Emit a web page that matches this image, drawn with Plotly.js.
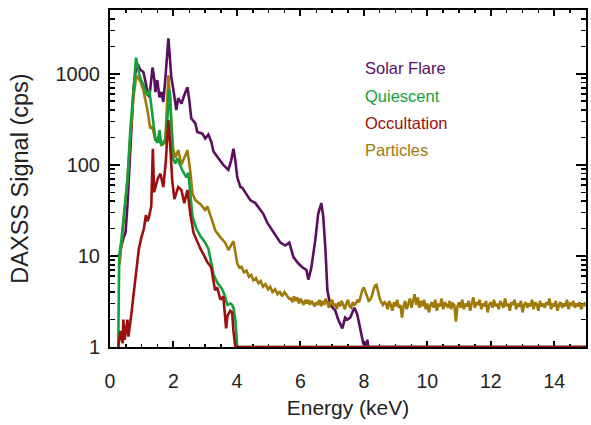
<!DOCTYPE html>
<html><head><meta charset="utf-8">
<script src="https://cdn.plot.ly/plotly-3.0.1.min.js"></script>
<style>body{margin:0;background:#fff}</style>
</head><body><div id="chart" style="width:591px;height:425px"></div>
<script>
const seriesNames = ['Solar Flare','Quiescent','Occultation','Particles'];
const seriesColors = ['#5b0d5f','#14a03c','#9b0f0f','#a07a08'];

const flareE = [0.30,0.33,0.42,0.49,0.55,0.64,0.74,0.83,0.89,0.96,1.05,1.11,1.18,1.24,1.30,1.34,1.40,1.43,1.49,1.56,1.62,1.68,1.74,1.81,1.84,1.87,1.93,2.00,2.09,2.15,2.25,2.34,2.44,2.50,2.56,2.69,2.75,2.91,3.00,3.10,3.19,3.26,3.41,3.57,3.73,3.82,3.89,3.95,4.01,4.11,4.17,4.33,4.42,4.58,4.74,4.83,4.96,5.15,5.37,5.52,5.65,5.78,5.93,6.06,6.19,6.25,6.34,6.47,6.56,6.66,6.72,6.79,6.85,6.94,7.10,7.19,7.32,7.41,7.48,7.57,7.70,7.79,7.89,7.98,8.04,8.11,8.14,15.0];
const flareV = [9,11.6,15.6,18,36,145,660,1250,1250,1100,1050,850,630,550,950,1170,850,630,850,550,630,490,850,1600,2450,1800,930,660,400,540,470,580,710,510,325,285,230,220,195,215,180,140,118,100,88,112,150,112,73,57,56,46,41,38,32,29,23,18,14,13,14,9.7,8.3,7.5,7.0,5.5,7.3,14.9,29,38,27,11.6,4.2,2.9,2.5,2.0,1.6,2.1,2.0,2.1,2.7,2.3,1.5,1.1,1,1.2,1,1];

const quietE = [0.26,0.29,0.36,0.49,0.55,0.64,0.74,0.82,0.92,0.98,1.05,1.17,1.24,1.30,1.43,1.50,1.56,1.62,1.74,1.81,1.86,1.90,1.94,1.97,2.06,2.12,2.28,2.41,2.47,2.53,2.60,2.72,2.85,3.00,3.10,3.16,3.26,3.38,3.52,3.60,3.70,3.79,3.85,3.89,3.95,4.01,15.0];
const quietV = [1,10,15,40,68,240,700,1500,1000,850,760,580,660,450,190,175,240,165,190,330,680,560,280,120,103,118,87,73,82,53,27,20,16.5,14,12,9.5,6.3,5.1,4.4,3.8,2.9,3.0,2.9,2.7,2.0,1,1];

const occE = [0.26,0.33,0.40,0.42,0.46,0.49,0.55,0.58,0.62,0.68,0.74,0.83,0.91,0.99,1.07,1.13,1.18,1.22,1.30,1.35,1.39,1.50,1.59,1.68,1.76,1.80,1.84,1.90,1.96,2.03,2.15,2.25,2.34,2.44,2.53,2.63,2.72,2.85,2.97,3.07,3.19,3.26,3.31,3.38,3.48,3.57,3.66,3.70,3.79,3.85,3.89,3.95,15.0];
const occV = [1,1.5,1.1,2.0,1.2,1.5,2.0,1.3,1.6,2.4,3.7,7.0,12,16,20,28,24,26,35,150,50,70,80,57,110,190,310,160,68,42,57,53,38,53,29,18,15,12,10,8.5,7.5,5.5,4.2,4.5,3.3,3.6,1.6,2.2,2.5,2.4,1.5,1,1];

const partE = [0.30,0.45,0.55,0.64,0.74,0.83,0.96,1.05,1.18,1.27,1.33,1.43,1.52,1.62,1.74,1.84,1.90,1.99,2.06,2.15,2.25,2.37,2.44,2.53,2.60,2.69,2.85,3.00,3.07,3.16,3.32,3.48,3.63,3.73,3.80,3.89,3.95,
4.01,4.08,4.15,4.22,4.30,4.38,4.45,4.52,4.60,4.68,4.75,4.82,4.90,4.98,5.05,5.12,5.20,5.28,5.35,5.42,5.50,5.57,5.64,
5.70,5.75,5.80,5.85,5.90,5.95,6.00,6.05,6.10,6.15,
6.20,6.25,6.30,6.35,6.40,6.45,6.50,6.55,6.60,6.65,
6.70,6.75,6.80,6.85,6.90,6.95,7.00,7.05,7.10,7.15,
7.20,7.25,7.30,7.35,7.40,7.45,7.50,7.55,7.60,7.65,
7.70,7.75,7.80,7.85,7.90,7.95,8.00,8.05,8.10,8.15,
8.20,8.25,8.30,8.35,8.40,8.45,8.50,8.55,8.60,8.65,
8.70,8.75,8.80,8.85,8.90,8.95,9.00,9.05,9.10,9.15,
9.20,9.25,9.30,9.35,9.40,9.45,9.50,9.55,9.60,9.65,
9.70,9.75,9.80,9.85,9.90,9.95,10.00,10.05,10.10,10.15,
10.20,10.25,10.30,10.35,10.40,10.45,10.50,10.55,10.60,10.65,
10.70,10.75,10.80,10.85,10.90,10.95,11.00,11.05,11.10,11.15,
11.20,11.25,11.30,11.35,11.40,11.45,11.50,11.55,11.60,11.65,
11.70,11.75,11.80,11.85,11.90,11.95,12.00,12.05,12.10,12.15,
12.20,12.25,12.30,12.35,12.40,12.45,12.50,12.55,12.60,12.65,
12.70,12.75,12.80,12.85,12.90,12.95,13.00,13.05,13.10,13.15,
13.20,13.25,13.30,13.35,13.40,13.45,13.50,13.55,13.60,13.65,
13.70,13.75,13.80,13.85,13.90,13.95,14.00,14.05,14.10,14.15,
14.20,14.25,14.30,14.35,14.40,14.45,14.50,14.55,14.60,14.65,
14.70,14.75,14.80,14.85,14.90,14.95,15.00];
const partV = [8,30,70,200,550,960,820,660,400,250,265,185,200,165,175,960,500,150,120,145,100,130,145,85,48,41,37,32,35,28,19,16,14,11.6,13,14.5,11,
8.3,7.4,7.6,6.6,6.9,5.9,6.2,5.4,5.7,5.0,5.3,4.6,4.9,4.3,4.6,4.0,4.3,3.8,4.1,3.6,4.0,3.7,3.4,
3.4,3.1,3.6,3.2,3.5,3.0,3.4,3.1,2.9,3.3,
3.0,3.3,2.9,3.2,3.0,2.8,3.1,2.9,3.3,2.8,
3.2,2.9,3.4,3.0,2.7,3.1,3.3,2.8,3.0,2.6,
3.1,2.8,3.2,2.9,2.6,3.0,3.3,2.8,2.7,3.1,
2.9,3.0,3.3,3.1,3.6,4.2,4.5,4.0,3.4,3.2,
3.3,3.6,4.2,4.7,4.8,4.0,3.4,3.1,2.9,3.1,
3.0,2.6,3.2,2.9,2.5,3.1,2.8,3.3,2.7,2.9,
2.1,2.8,3.2,2.6,3.0,3.4,2.7,3.1,3.8,2.9,
3.5,2.7,3.2,2.8,3.3,2.6,3.0,2.4,2.9,3.1,
2.7,3.3,2.5,3.0,2.8,3.4,2.6,3.1,2.9,2.7,
3.2,2.6,3.0,2.9,1.9,2.8,3.1,2.7,3.3,2.6,
3.0,2.8,3.2,2.5,3.0,3.5,2.7,3.1,2.9,3.3,
2.6,3.0,2.8,3.2,2.4,2.9,3.1,2.7,3.3,2.8,
3.0,2.6,3.2,2.9,2.7,3.4,2.8,3.0,2.5,3.1,
2.9,3.3,2.6,3.0,2.8,3.2,2.4,2.9,3.1,2.7,
3.0,2.8,3.3,2.6,3.1,2.9,2.5,3.2,2.8,3.0,
2.7,3.1,2.9,3.4,2.6,3.0,2.8,3.2,2.5,2.9,
3.1,2.7,3.0,2.8,3.3,2.6,3.0,2.9,3.2,2.7,
3.0,2.8,3.1,2.6,2.9,3.0,2.8];

const xTickVals = [0,2,4,6,8,10,12,14];
const xTickText = ['0','2','4','6','8','10','12','14'];
const yTickVals = [1,10,100,1000];
const yTickText = ['1','10','100','1000'];

const FONT = '"Liberation Sans", Arial, sans-serif';
const mk = (x, y, i) => ({x: x, y: y, type: 'scatter', mode: 'lines', name: seriesNames[i],
  line: {color: seriesColors[i], width: 2.6}, hoverinfo: 'skip'});

const traces = [mk(flareE, flareV, 0), mk(partE, partV, 3), mk(quietE, quietV, 1), mk(occE, occV, 2)];

const legY = [0.828, 0.745, 0.665, 0.585];
const annotations = seriesNames.map((n, i) => ({
  text: n, xref: 'paper', yref: 'paper', x: 0.532, y: legY[i], xanchor: 'left', yanchor: 'middle',
  showarrow: false, font: {family: FONT, size: 16.5, color: seriesColors[i]}
}));

const layout = {
  width: 591, height: 425,
  margin: {l: 110, r: 5, t: 10, b: 78},
  paper_bgcolor: '#fff', plot_bgcolor: '#fff',
  showlegend: false,
  font: {family: FONT, color: '#222'},
  xaxis: {
    range: [0, 15], tickmode: 'array', tickvals: xTickVals, ticktext: xTickText,
    ticks: 'inside', ticklen: 6, tickwidth: 2, tickcolor: '#000',
    showline: true, linecolor: '#000', linewidth: 2, mirror: 'ticks',
    showgrid: false, zeroline: false, layer: 'below traces',
    tickfont: {family: FONT, size: 19.5, color: '#222'}, ticklabelstandoff: 16,
    minor: {ticks: 'inside', ticklen: 3, tickwidth: 1.5, tickcolor: '#000', dtick: 0.5, tick0: 0, showgrid: false},
    title: {text: 'Energy (keV)', font: {family: FONT, size: 21, color: '#222'}, standoff: 9}
  },
  yaxis: {
    type: 'log', range: [0, 3.7], tickmode: 'array', tickvals: yTickVals, ticktext: yTickText,
    ticks: 'inside', ticklen: 10, tickwidth: 2, tickcolor: '#000',
    showline: true, linecolor: '#000', linewidth: 2, mirror: 'ticks',
    showgrid: false, zeroline: false, layer: 'below traces',
    tickfont: {family: FONT, size: 20, color: '#222'}, ticklabelstandoff: 4,
    minor: {ticks: 'inside', ticklen: 5, tickwidth: 1.5, tickcolor: '#000', dtick: 'D1', showgrid: false},
    title: {text: 'DAXSS Signal (cps)', font: {family: FONT, size: 23.5, color: '#222'}, standoff: 20}
  },
  annotations: annotations
};

Plotly.newPlot('chart', traces, layout, {staticPlot: true, displayModeBar: false});
</script>
</body></html>
